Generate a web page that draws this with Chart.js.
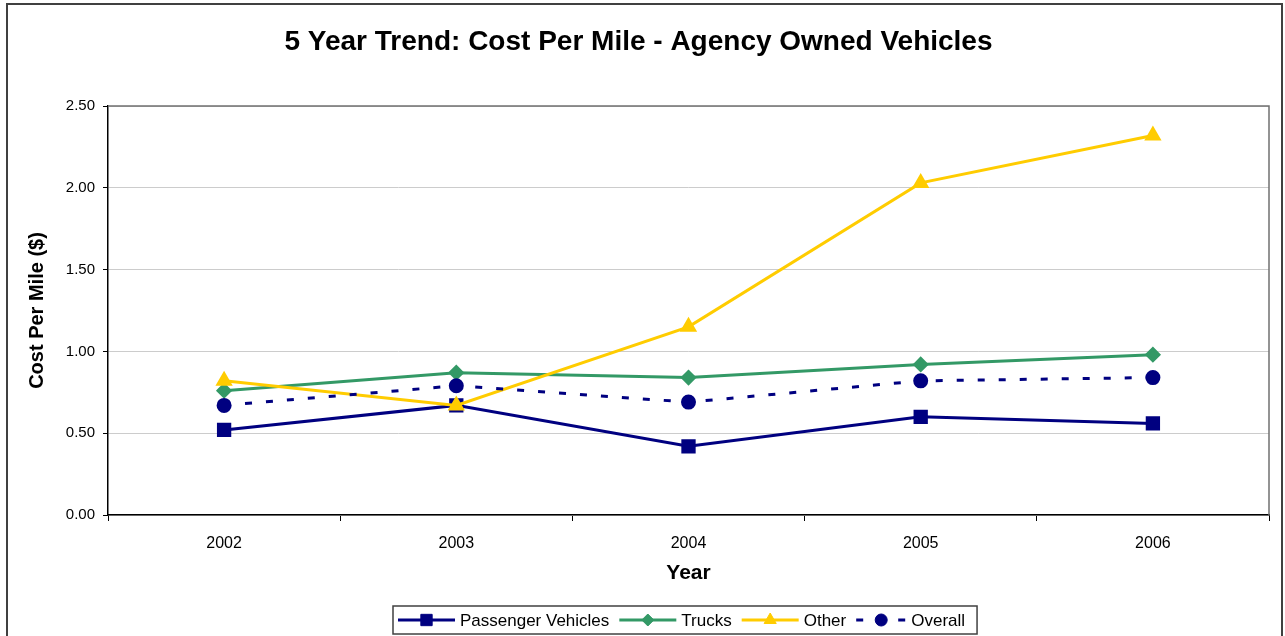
<!DOCTYPE html>
<html>
<head>
<meta charset="utf-8">
<script src="https://cdn.jsdelivr.net/npm/chart.js@4"></script>
<style>
  html, body { margin: 0; padding: 0; background: #fff; }
  #wrap { width: 1285px; height: 636px; }
</style>
</head>
<body>
<div id="wrap"><canvas id="chart" width="1285" height="636"></canvas></div>
<script>
// chart data
const years = ["2002", "2003", "2004", "2005", "2006"];
const passenger = [0.52, 0.67, 0.42, 0.60, 0.56];
const trucks = [0.76, 0.87, 0.84, 0.92, 0.98];
const other = [0.82, 0.67, 1.15, 2.03, 2.32];
const overall = [0.67, 0.79, 0.69, 0.82, 0.84];
const yTicks = [0, 0.5, 1, 1.5, 2, 2.5];

const FONT = "Arial, 'Liberation Sans', sans-serif";

// outer frame + plot frame
const framePlugin = {
  id: "frame",
  beforeDraw(chart) {
    const ctx = chart.ctx;
    ctx.save();
    ctx.fillStyle = "#fff";
    ctx.fillRect(0, 0, chart.width, chart.height);
    ctx.strokeStyle = "#404040";
    ctx.lineWidth = 2;
    ctx.strokeRect(7, 4, 1275, 650);
    ctx.restore();
  },
  beforeDatasetsDraw(chart) {
    const a = chart.chartArea;
    const ctx = chart.ctx;
    ctx.save();
    ctx.strokeStyle = "#707070";
    ctx.lineWidth = 1.5;
    ctx.beginPath();
    ctx.moveTo(a.left, a.top);
    ctx.lineTo(a.right, a.top);
    ctx.lineTo(a.right, a.bottom);
    ctx.stroke();
    ctx.restore();
  }
};

// Excel style legend with a box round it
const legendPlugin = {
  id: "boxLegend",
  afterDraw(chart) {
    const ctx = chart.ctx;
    ctx.save();
    ctx.font = "17px " + FONT;
    ctx.textBaseline = "middle";
    const cy = 620;
    let x = 398;
    chart.data.datasets.forEach((ds, i) => {
      const len = i === 3 ? 50 : 57;
      ctx.strokeStyle = ds.borderColor;
      ctx.lineWidth = 3;
      ctx.setLineDash(ds.borderDash || []);
      ctx.beginPath();
      ctx.moveTo(x, cy);
      ctx.lineTo(x + len, cy);
      ctx.stroke();
      ctx.setLineDash([]);
      ctx.fillStyle = ds.pointBackgroundColor;
      ctx.strokeStyle = ds.pointBorderColor;
      ctx.lineWidth = 1;
      Chart.helpers.drawPoint(ctx, {
        pointStyle: ds.pointStyle,
        radius: ds.pointRadius,
        borderWidth: 1
      }, x + len / 2, cy);
      x += len + 5;
      ctx.fillStyle = "#000";
      ctx.fillText(ds.label, x, cy + 1);
      x += ctx.measureText(ds.label).width + 10;
    });
    ctx.strokeStyle = "#404040";
    ctx.lineWidth = 1.5;
    ctx.strokeRect(393, 606, x - 393 + 2, 28);
    ctx.restore();
  }
};

function series(label, data, color, style, radius, order, dash) {
  return {
    label: label,
    data: data,
    borderColor: color,
    backgroundColor: color,
    pointBackgroundColor: color,
    pointBorderColor: color,
    pointStyle: style,
    pointRadius: radius,
    pointHoverRadius: radius,
    borderWidth: 3,
    borderDash: dash || [],
    tension: 0,
    order: order
  };
}

new Chart(document.getElementById("chart"), {
  type: "line",
  data: {
    labels: years,
    datasets: [
      series("Passenger Vehicles", passenger, "#000080", "rect", 8, 4),
      series("Trucks", trucks, "#339966", "rectRot", 6, 3),
      series("Other", other, "#FFCC00", "triangle", 7, 2),
      series("Overall", overall, "#000080", "circle", 6, 1, [7, 14])
    ]
  },
  options: {
    responsive: false,
    animation: false,
    events: [],
    layout: { padding: { left: 8, right: 16, top: 0, bottom: 36 } },
    plugins: {
      legend: { display: false },
      tooltip: { enabled: false },
      title: {
        display: true,
        text: "5 Year Trend: Cost Per Mile - Agency Owned Vehicles",
        color: "#000",
        font: { family: FONT, size: 28, weight: "bold" },
        padding: { top: 25.2, bottom: 47.2 }
      }
    },
    scales: {
      x: {
        type: "category",
        offset: true,
        afterFit(scale) { scale.height = 85; },
        border: { color: "#000", width: 1.5 },
        grid: {
          offset: true,
          drawOnChartArea: false,
          drawTicks: true,
          tickLength: 6,
          tickColor: "#000"
        },
        ticks: {
          color: "#000",
          font: { family: FONT, size: 16 },
          padding: 13,
          maxRotation: 0
        },
        title: {
          display: true,
          text: "Year",
          color: "#000",
          font: { family: FONT, size: 21, weight: "bold" },
          padding: { top: 4, bottom: 14 }
        }
      },
      y: {
        min: 0,
        max: 2.5,
        afterFit(scale) { scale.width = 100; },
        afterBuildTicks(scale) { scale.ticks = yTicks.map(v => ({ value: v })); },
        border: { color: "#000", width: 1.5 },
        grid: {
          color: "#cccccc",
          lineWidth: 1,
          drawTicks: true,
          tickLength: 5,
          tickColor: "#000"
        },
        ticks: {
          color: "#000",
          font: { family: FONT, size: 15 },
          padding: 8,
          callback: v => Number(v).toFixed(2)
        },
        title: {
          display: true,
          text: "Cost Per Mile ($)",
          color: "#000",
          font: { family: FONT, size: 20, weight: "bold" },
          padding: { top: 17, bottom: 4 }
        }
      }
    }
  },
  plugins: [framePlugin, legendPlugin]
});
</script>
</body>
</html>
